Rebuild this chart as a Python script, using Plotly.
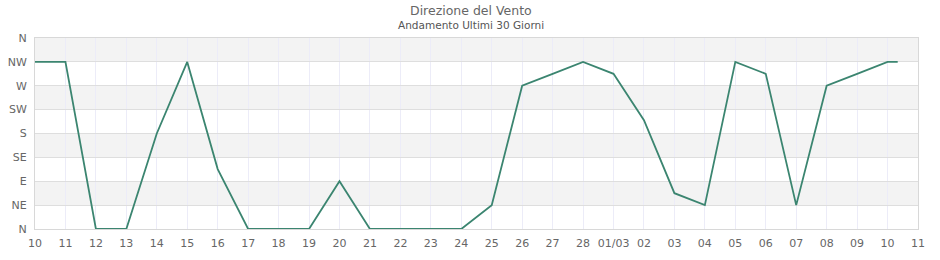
import plotly.graph_objects as go

times = ["2025-02-10", "2025-02-11", "2025-02-12", "2025-02-13", "2025-02-14", "2025-02-15",
         "2025-02-16", "2025-02-17", "2025-02-18", "2025-02-19", "2025-02-20", "2025-02-21",
         "2025-02-22", "2025-02-23", "2025-02-24", "2025-02-25", "2025-02-26", "2025-02-27",
         "2025-02-28", "2025-03-01", "2025-03-02", "2025-03-03", "2025-03-04", "2025-03-05",
         "2025-03-06", "2025-03-07", "2025-03-08", "2025-03-09", "2025-03-10", "2025-03-10 08:00"]
direction = [315, 315, 0, 0, 180, 315,
             113, 0, 0, 0, 90, 0,
             0, 0, 0, 45, 270, 292.5,
             315, 292.5, 205, 67.5, 45, 315,
             292.5, 45, 270, 292.5, 315, 315]

tick_dates = ["2025-02-%02d" % d for d in range(10, 29)] + ["2025-03-%02d" % d for d in range(1, 12)]
tick_text = ["%02d" % d for d in range(10, 29)] + ["01/03"] + ["%02d" % d for d in range(2, 12)]
dir_vals = [0, 45, 90, 135, 180, 225, 270, 315, 360]
dir_text = ["N", "NE", "E", "SE", "S", "SW", "W", "NW", "N"]

title_text = "Direzione del Vento"
subtitle_text = "Andamento Ultimi 30 Giorni"

fig = go.Figure()
fig.add_trace(go.Scatter(x=times, y=direction, mode="lines",
                         line=dict(color="#3b8570", width=1.8), showlegend=False))

# alternating bands
for i in range(0, 8):
    if i % 2 == 1:
        fig.add_shape(type="rect", xref="paper", yref="y", x0=0, x1=1,
                      y0=dir_vals[i], y1=dir_vals[i + 1], fillcolor="#f3f3f3",
                      line=dict(width=0), layer="below")

fig.add_annotation(text=title_text, xref="paper", yref="paper", x=0.5, y=1, xshift=-6, yshift=28,
                   xanchor="center", yanchor="middle", showarrow=False,
                   font=dict(family="DejaVu Sans", size=12.5, color="#666666"))
fig.add_annotation(text=subtitle_text, xref="paper", yref="paper", x=0.5, y=1, xshift=-6, yshift=13,
                   xanchor="center", yanchor="middle", showarrow=False,
                   font=dict(family="DejaVu Sans", size=10.5, color="#555555"))

fig.update_layout(
    width=940, height=260,
    margin=dict(l=35, r=22, t=38, b=31),
    paper_bgcolor="white", plot_bgcolor="white",
    font=dict(family="DejaVu Sans", size=11, color="#666666"),
    xaxis=dict(type="date", range=["2025-02-10", "2025-03-11"], tickvals=tick_dates, ticktext=tick_text,
               showgrid=True, gridcolor="#ececf8", gridwidth=1, showline=True, linecolor="#d8d8d8",
               mirror=True, ticks="outside", ticklen=4, tickcolor="rgba(0,0,0,0)", zeroline=False,
               automargin=False, tickfont=dict(size=11, color="#666666")),
    yaxis=dict(range=[0, 360], tickvals=dir_vals, ticktext=dir_text, showgrid=True,
               gridcolor="#dedede", gridwidth=1, showline=True, linecolor="#d8d8d8", mirror=True,
               ticks="outside", ticklen=5, tickcolor="rgba(0,0,0,0)", zeroline=False,
               automargin=False, tickfont=dict(size=11, color="#666666")),
)

fig.write_html("out.html")
